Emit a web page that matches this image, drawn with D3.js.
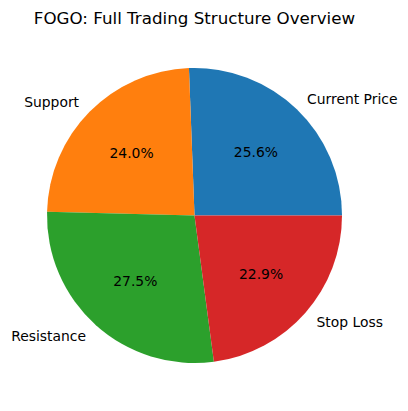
<!DOCTYPE html>
<html><head><meta charset="utf-8">
<script src="https://cdn.jsdelivr.net/npm/d3@7"></script>
<style>body{margin:0;background:#fff}</style>
</head><body>
<script>
const categories = ["Current Price", "Support", "Resistance", "Stop Loss"];
const values = [25.6, 24.0, 27.5, 22.9];
const colors = ["#1f77b4", "#ff7f0e", "#2ca02c", "#d62728"];
const title = "FOGO: Full Trading Structure Overview";

const W = 408, H = 411, cx = 194.5, cy = 215.5, R = 147.5;
const svg = d3.select("body").append("svg").attr("width", W).attr("height", H)
  .style("font-family", "DejaVu Sans");

const total = d3.sum(values);
const angle = d3.scaleLinear().domain([0, total]).range([0, 2 * Math.PI]);
let cum = 0;
const slices = values.map((v, i) => {
  const t1 = angle(cum); cum += v; const t2 = angle(cum);
  return {i, v, t1, t2};
});
const arc = d3.arc().innerRadius(0).outerRadius(R);
const g = svg.append("g").attr("transform", `translate(${cx},${cy})`);
g.selectAll("path").data(slices).join("path")
  .attr("d", d => arc({startAngle: Math.PI / 2 - d.t2, endAngle: Math.PI / 2 - d.t1}))
  .attr("fill", d => colors[d.i]);

slices.forEach(d => {
  const m = (d.t1 + d.t2) / 2;
  const lx = 1.1 * R * Math.cos(m), ly = -1.1 * R * Math.sin(m);
  g.append("text").attr("x", lx).attr("y", ly)
    .attr("text-anchor", lx > 0 ? "start" : "end")
    .attr("dominant-baseline", "central")
    .attr("font-size", "13.9px").attr("fill", "#000")
    .text(categories[d.i]);
  const px = 0.6 * R * Math.cos(m), py = -0.6 * R * Math.sin(m);
  g.append("text").attr("x", px).attr("y", py)
    .attr("text-anchor", "middle").attr("dominant-baseline", "central")
    .attr("font-size", "13.9px").attr("fill", "#000")
    .text(d3.format(".1f")(d.v / total * 100) + "%");
});

svg.append("text").attr("x", cx).attr("y", 24)
  .attr("text-anchor", "middle").attr("font-size", "16.7px").attr("fill", "#000")
  .text(title);
</script>
</body></html>
